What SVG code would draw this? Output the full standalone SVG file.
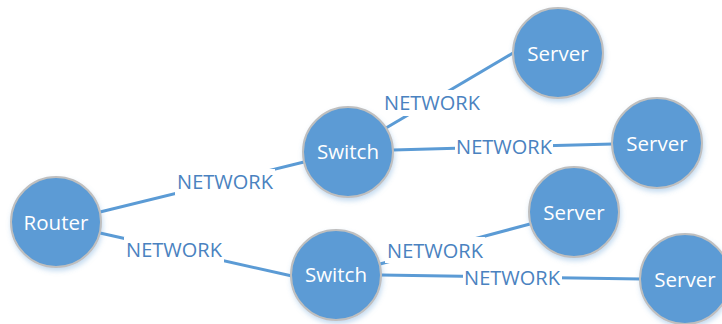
<svg xmlns="http://www.w3.org/2000/svg" width="722" height="324" viewBox="0 0 722 324">
  <style>
    .link { stroke: #5b9bd5; stroke-width: 3; fill: none; }
    .lbl-bg { fill: #ffffff; }
    .lbl { font-family: "Open Sans", "Liberation Sans", sans-serif; font-size: 20px; fill: #4a82c0; text-anchor: middle; }
    .node circle { fill: #5b9bd5; stroke: #bfbfbf; stroke-width: 2; filter: url(#glow); }
    .node text { font-family: "Open Sans", "Liberation Sans", sans-serif; font-size: 20.5px; fill: #ffffff; text-anchor: middle; }
  </style>
  <defs>
    <filter id="glow" x="-30%" y="-30%" width="160%" height="170%">
      <feDropShadow dx="1" dy="3" stdDeviation="2.5" flood-color="#5b9bd5" flood-opacity="0.35"/>
    </filter>
  </defs>
  <rect width="722" height="324" fill="#ffffff"/>

  <!-- connectors, each with a white plate behind its label -->
  <g id="connectors">
    <line class="link" x1="100" y1="212" x2="304" y2="162"/>
    <line class="link" x1="100" y1="233" x2="292" y2="276"/>
    <line class="link" x1="386" y1="128" x2="513" y2="53"/>
    <line class="link" x1="393" y1="150" x2="613" y2="144"/>
    <line class="link" x1="380" y1="264" x2="530" y2="224"/>
    <line class="link" x1="381" y1="275" x2="641" y2="279"/>

    <rect class="lbl-bg" x="175" y="169" width="100" height="26"/>
    <text class="lbl" x="225" y="189">NETWORK</text>
    <rect class="lbl-bg" x="124" y="237" width="100" height="26"/>
    <text class="lbl" x="174" y="257">NETWORK</text>
    <rect class="lbl-bg" x="382" y="90" width="100" height="26"/>
    <text class="lbl" x="432" y="110">NETWORK</text>
    <rect class="lbl-bg" x="455" y="134" width="98" height="26"/>
    <text class="lbl" x="504" y="154">NETWORK</text>
    <rect class="lbl-bg" x="385" y="237" width="100" height="26"/>
    <text class="lbl" x="435" y="258">NETWORK</text>
    <rect class="lbl-bg" x="463" y="265" width="99" height="26"/>
    <text class="lbl" x="512" y="285">NETWORK</text>
  </g>

  <!-- nodes -->
  <g id="router" class="node">
    <circle cx="56" cy="222" r="45"/>
    <text x="56" y="230">Router</text>
  </g>
  <g id="switch1" class="node">
    <circle cx="348" cy="152" r="45"/>
    <text x="348" y="159">Switch</text>
  </g>
  <g id="switch2" class="node">
    <circle cx="336" cy="275" r="45"/>
    <text x="336" y="282">Switch</text>
  </g>
  <g id="server1" class="node">
    <circle cx="558" cy="53" r="45"/>
    <text x="558" y="61">Server</text>
  </g>
  <g id="server2" class="node">
    <circle cx="657" cy="143" r="45"/>
    <text x="657" y="151">Server</text>
  </g>
  <g id="server3" class="node">
    <circle cx="574" cy="212" r="45"/>
    <text x="574" y="220">Server</text>
  </g>
  <g id="server4" class="node">
    <circle cx="685" cy="279" r="45"/>
    <text x="685" y="287">Server</text>
  </g>
</svg>
